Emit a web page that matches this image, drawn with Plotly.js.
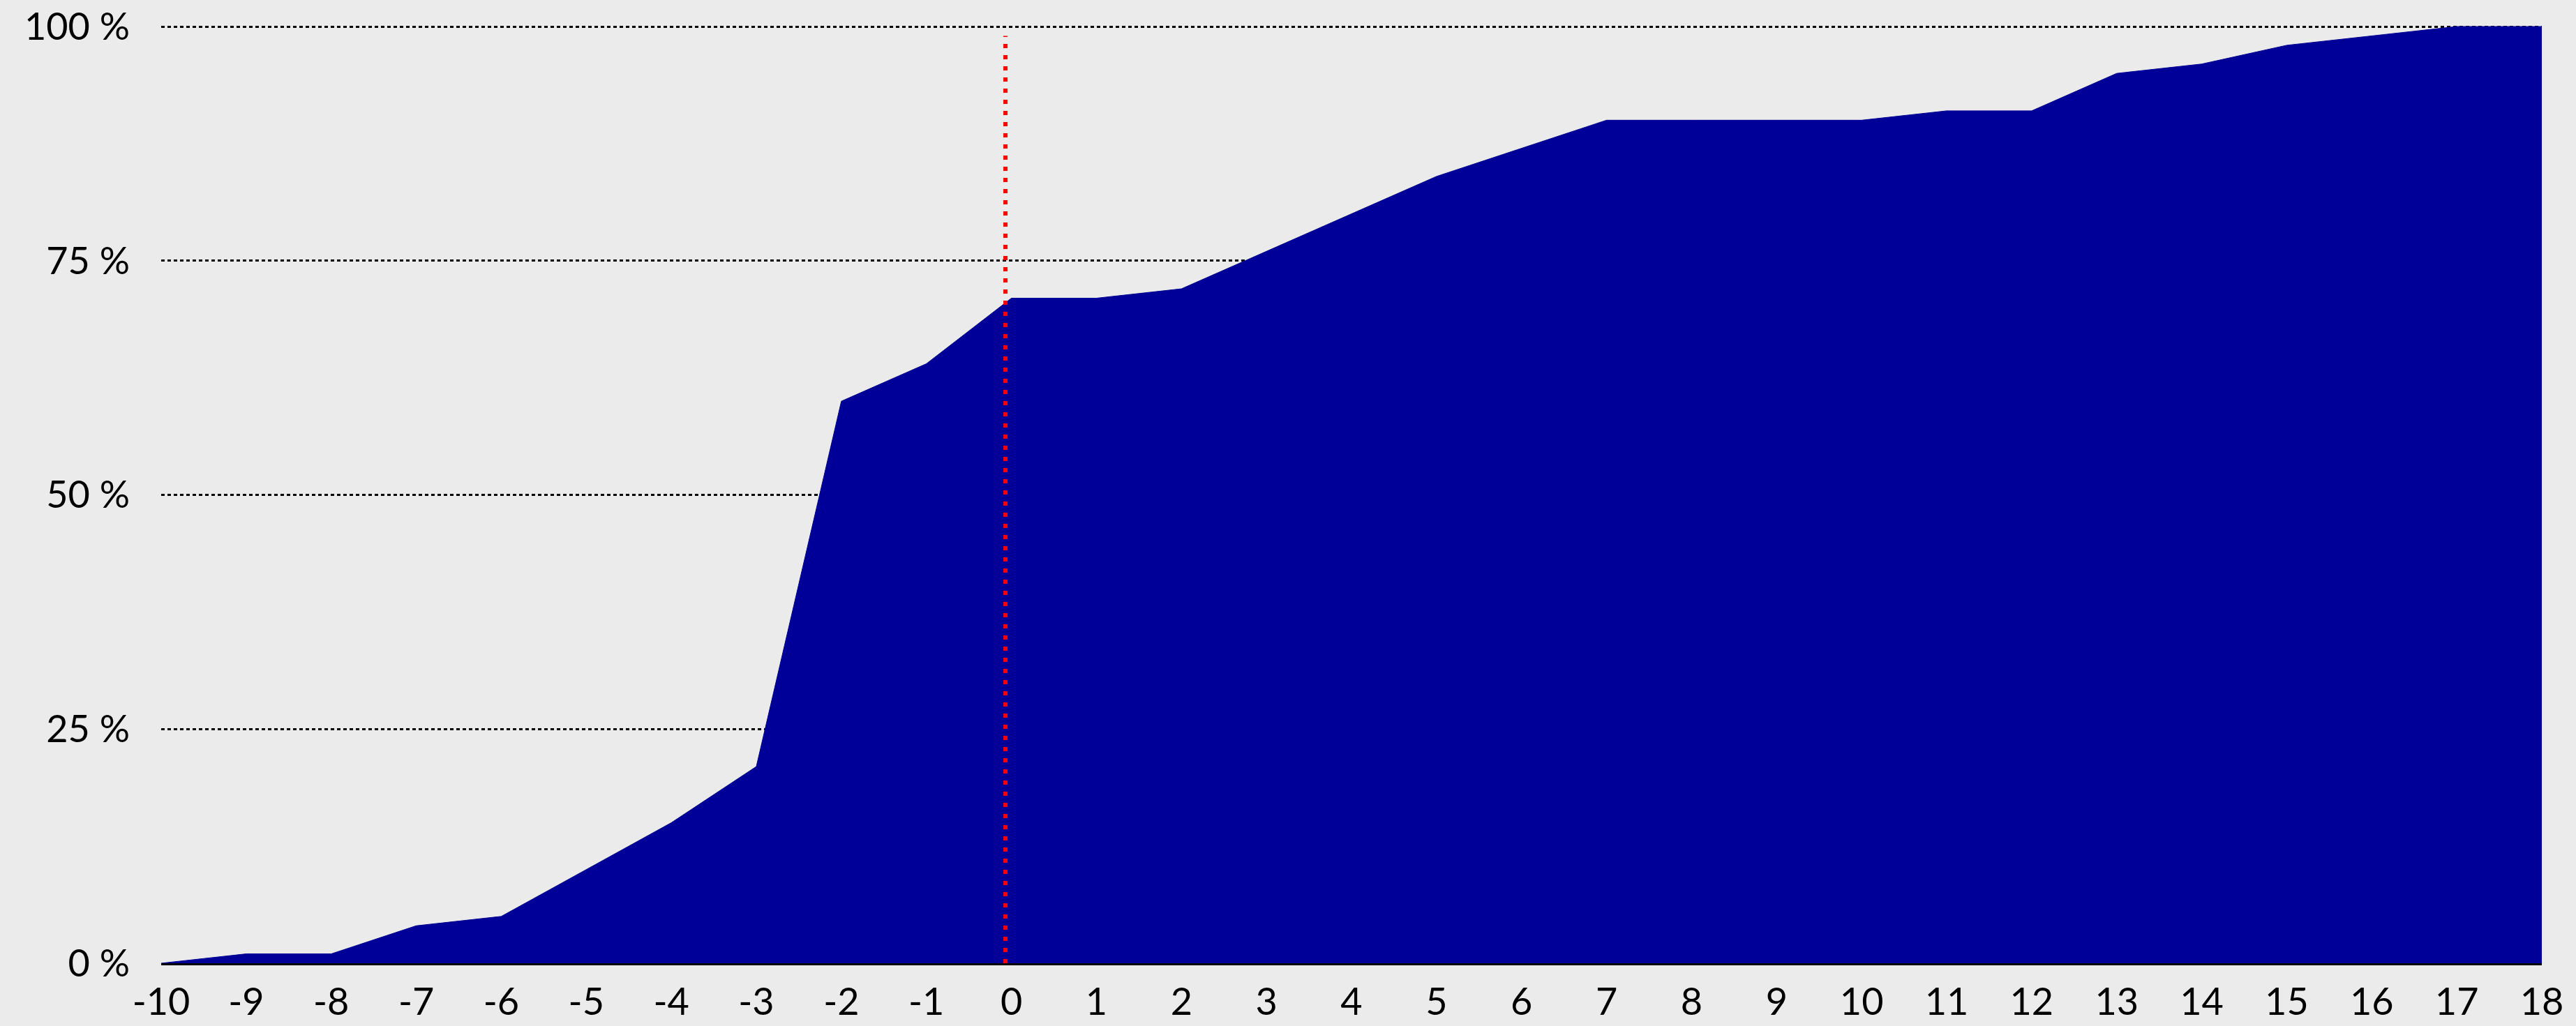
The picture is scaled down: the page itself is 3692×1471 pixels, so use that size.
<!DOCTYPE html>
<html>
<head>
<meta charset="utf-8">
<script src="https://cdn.plot.ly/plotly-3.0.1.min.js"></script>
<style>
  html, body { margin: 0; padding: 0; background: #EBEBEB; }
  #chart { width: 3692px; height: 1471px; }
</style>
</head>
<body>
<div id="chart"></div>
<script>
// ---- data ----
const xValues = [-10, -9, -8, -7, -6, -5, -4, -3, -2, -1, 0, 1, 2, 3, 4, 5, 6, 7, 8, 9, 10, 11, 12, 13, 14, 15, 16, 17, 18];
const shareValues = [0, 1, 1, 4, 5, 10, 15, 21, 60, 64, 71, 71, 72, 76, 80, 84, 87, 90, 90, 90, 90, 91, 91, 95, 96, 98, 99, 100, 100];
const xTickText = ["-10", "-9", "-8", "-7", "-6", "-5", "-4", "-3", "-2", "-1", "0", "1", "2", "3", "4", "5", "6", "7", "8", "9", "10", "11", "12", "13", "14", "15", "16", "17", "18"];
const yTickVals = [0, 25, 50, 75, 100];
const yTickText = ["0 %", "25 %", "50 %", "75 %", "100 %"];
const markerX = -0.07; // red reference line sits just left of zero in the source

const FONT = 'Lato, "Noto Sans", sans-serif';

const trace = {
  type: 'scatter',
  mode: 'lines',
  x: xValues,
  y: shareValues,
  fill: 'tozeroy',
  fillcolor: '#000098',
  line: { color: '#000098', width: 1 },
  hoverinfo: 'skip',
  showlegend: false
};

const layout = {
  width: 3692,
  height: 1471,
  paper_bgcolor: '#EBEBEB',
  plot_bgcolor: '#EBEBEB',
  margin: { l: 231, r: 49, t: 34, b: 90, pad: 0 },
  font: { family: FONT, size: 54, color: '#000000' },
  showlegend: false,
  xaxis: {
    range: [xValues[0], xValues[xValues.length - 1]],
    tickmode: 'array',
    tickvals: xValues,
    ticktext: xTickText,
    showgrid: false,
    zeroline: false,
    showline: true,
    linecolor: '#000000',
    linewidth: 3,
    layer: 'below traces',
    ticks: '',
    ticklabelstandoff: 6,
    tickfont: { family: FONT, size: 54, color: '#000000' },
    fixedrange: true
  },
  yaxis: {
    range: [0, 100.3],
    tickmode: 'array',
    tickvals: yTickVals,
    ticktext: yTickText,
    showgrid: true,
    gridcolor: '#000000',
    gridwidth: 3,
    griddash: '5px,4px',
    zeroline: false,
    showline: false,
    ticks: '',
    ticklabelstandoff: 44,
    tickfont: { family: FONT, size: 54, color: '#000000' },
    fixedrange: true
  },
  shapes: [{
    type: 'line',
    xref: 'x', yref: 'y',
    x0: markerX, x1: markerX,
    y0: 0, y1: 99,
    line: { color: '#FF0000', width: 6, dash: '6px,10px' },
    layer: 'above'
  }]
};

Plotly.newPlot('chart', [trace], layout, { displayModeBar: false, staticPlot: true });
</script>
</body>
</html>
